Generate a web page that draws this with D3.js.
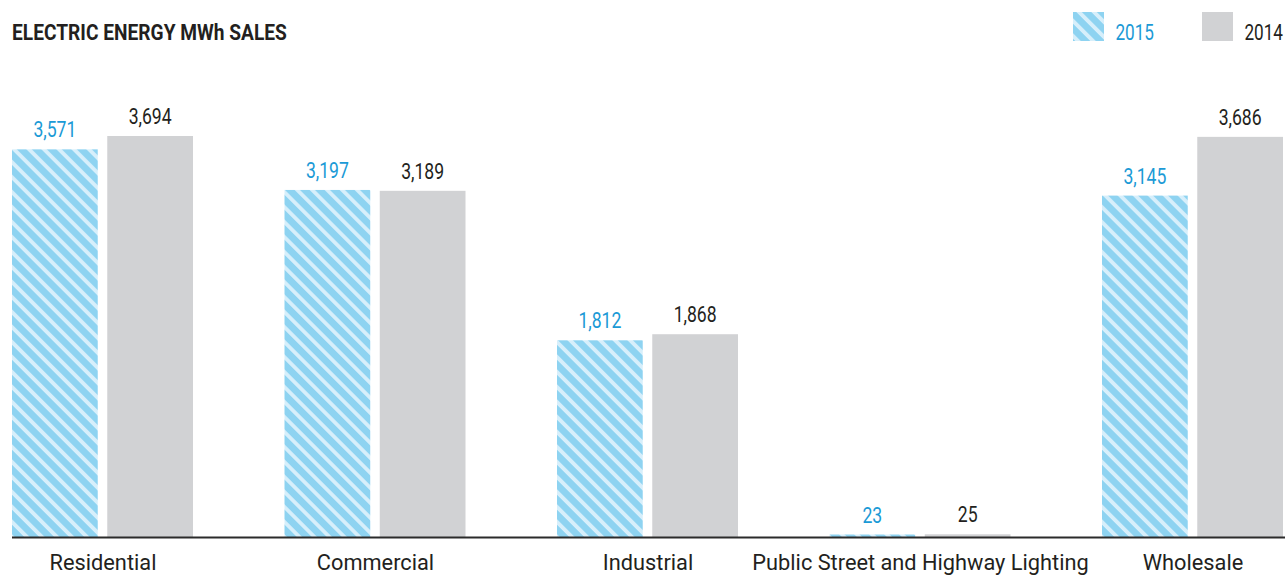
<!DOCTYPE html>
<html>
<head>
<meta charset="utf-8">
<script src="https://cdn.jsdelivr.net/npm/d3@7"></script>
<style>
  html, body { margin: 0; padding: 0; background: #fff; }
  svg { display: block; font-family: Roboto, "Liberation Sans", sans-serif; }
</style>
</head>
<body>
<svg id="chart" width="1285" height="576"></svg>
<script>
// Electric energy sales by customer class, MWh (thousands)
const categories = ["Residential", "Commercial", "Industrial", "Public Street and Highway Lighting", "Wholesale"];
const years = ["2015", "2014"];
const sales2015 = [3571, 3197, 1812, 23, 3145];
const sales2014 = [3694, 3189, 1868, 25, 3686];

const W = 1285, H = 576;
const baseY = 537;
const colors = { blue: "#8ed3f1", blueLight: "#d7effb", gray: "#d1d2d4", blueText: "#1b9ad6", darkText: "#231f20" };

const svg = d3.select("#chart");
const defs = svg.append("defs");

// diagonal stripes for the 2015 series
function stripes(id) {
  const p = defs.append("pattern")
    .attr("id", id)
    .attr("patternUnits", "userSpaceOnUse")
    .attr("width", 10.6).attr("height", 10.6)
    .attr("patternTransform", "rotate(-45)");
  p.append("rect").attr("width", 10.6).attr("height", 10.6).attr("fill", colors.blue);
  p.append("rect").attr("x", 0).attr("width", 3.8).attr("height", 10.6).attr("fill", colors.blueLight);
}
stripes("stripe");

// squeeze a text horizontally around its anchor point to mimic a condensed face;
// a function factor receives the natural width
function condense(sel, factor) {
  sel.each(function () {
    const t = d3.select(this);
    const x = +t.attr("x") || 0, yy = +t.attr("y") || 0;
    const f = typeof factor === "function" ? factor(this.getComputedTextLength()) : factor;
    const prev = t.attr("transform") || "";
    t.attr("x", 0).attr("y", 0)
      .attr("transform", `${prev} translate(${x},${yy}) scale(${f},1)`);
  });
}

const x0 = d3.scaleBand().domain(categories).range([12, 12 + 272.5 * 5]);
const x1 = d3.scaleBand().domain(years).range([0, 181]).paddingInner(0.1);
const y = d3.scaleLinear().domain([0, 3694]).range([baseY, 136]);

const rows = categories.map((c, i) => ({ cat: c, v2015: sales2015[i], v2014: sales2014[i] }));

const groups = svg.append("g").selectAll("g.grp").data(rows).join("g")
  .attr("class", "grp")
  .attr("transform", d => `translate(${x0(d.cat)},0)`);

const fillFor = { "2015": "url(#stripe)", "2014": colors.gray };
const textFor = { "2015": colors.blueText, "2014": colors.darkText };

groups.selectAll("rect").data(d => years.map(yr => ({ yr, v: d["v" + yr] }))).join("rect")
  .attr("x", d => x1(d.yr))
  .attr("width", x1.bandwidth())
  .attr("y", d => y(d.v))
  .attr("height", d => baseY - y(d.v))
  .attr("fill", d => fillFor[d.yr]);

groups.selectAll("text.val").data(d => years.map(yr => ({ yr, v: d["v" + yr] }))).join("text")
  .attr("class", "val")
  .attr("x", d => x1(d.yr) + x1.bandwidth() / 2)
  .attr("y", d => y(d.v) - 12)
  .attr("text-anchor", "middle")
  .attr("font-size", 22)
  .attr("fill", d => textFor[d.yr])
  .text(d => d3.format(",")(d.v))
  .call(condense, 0.8);

// baseline
svg.append("line")
  .attr("x1", 12).attr("x2", W)
  .attr("y1", baseY + 0.5).attr("y2", baseY + 0.5)
  .attr("stroke", "#2b2b2b").attr("stroke-width", 2);

// category labels
const xAxis = d3.axisBottom(d3.scalePoint().domain(categories).range([x0(categories[0]) + 90.5, x0(categories[4]) + 90.5]))
  .tickSize(0).tickPadding(0);
const ax = svg.append("g").attr("transform", `translate(0,${baseY})`).call(xAxis);
ax.select(".domain").remove();
ax.attr("font-family", null);
ax.selectAll("text")
  .attr("font-size", 22)
  .attr("fill", colors.darkText)
  .attr("dy", null)
  .attr("y", 33)
  .call(condense, 0.99);

// title
svg.append("text")
  .attr("x", 12).attr("y", 40)
  .attr("font-size", 22).attr("font-weight", "bold")
  .attr("fill", colors.darkText)
  .text("ELECTRIC ENERGY MWh SALES")
  .call(condense, w => 275 / w);

// legend
const legend = [
  { label: years[0], fill: "url(#stripe)", color: colors.blueText, x: 1073 },
  { label: years[1], fill: colors.gray, color: colors.darkText, x: 1202 }
];
const lg = svg.selectAll("g.leg").data(legend).join("g").attr("class", "leg");
lg.append("rect").attr("x", d => d.x).attr("y", 12).attr("width", 31).attr("height", 29).attr("fill", d => d.fill);
lg.append("text").attr("x", d => d.x + 81).attr("y", 40).attr("text-anchor", "end")
  .attr("font-size", 22).attr("fill", d => d.color).text(d => d.label)
  .call(condense, 0.78);
</script>
</body>
</html>
